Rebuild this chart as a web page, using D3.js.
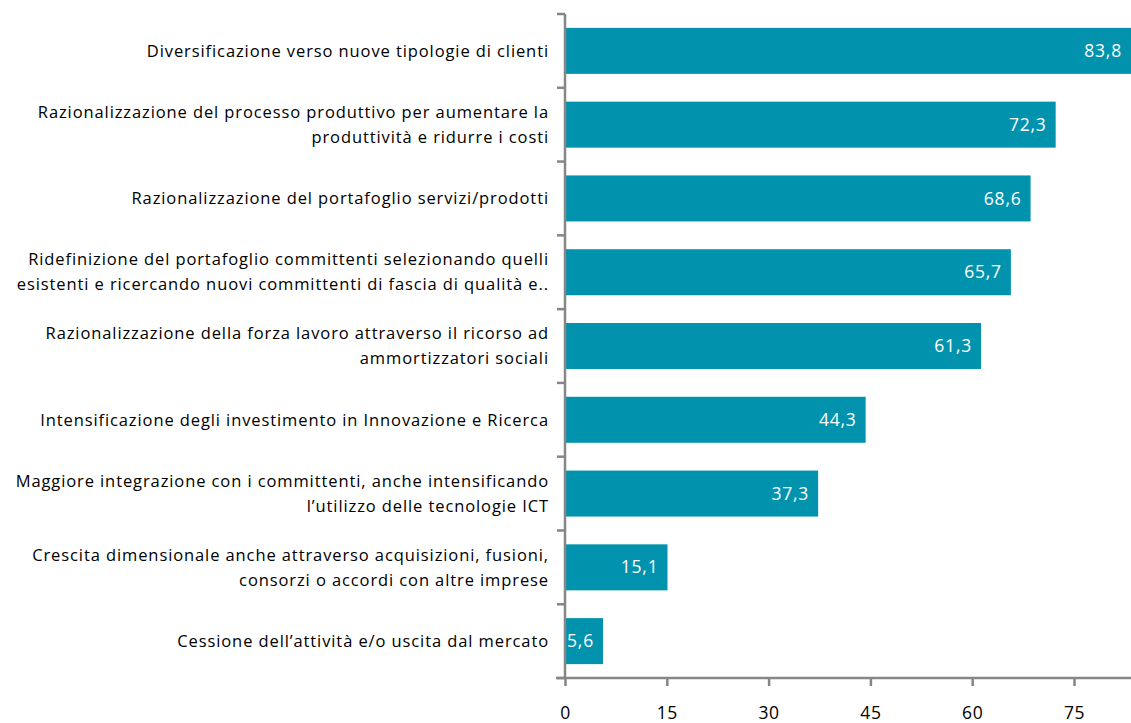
<!DOCTYPE html>
<html>
<head>
<meta charset="utf-8">
<script src="https://cdn.jsdelivr.net/npm/d3@7"></script>
<style>
  html, body { margin: 0; padding: 0; background: #fff; overflow: hidden; }
  svg { display: block; }
  .cat { font-family: "Open Sans", sans-serif; font-size: 16.5px; letter-spacing: 0.9px; fill: #000; }
  .val { font-family: "Open Sans", sans-serif; font-size: 17.5px; letter-spacing: 0.8px; fill: #fff; }
  .tick text { font-family: "Open Sans", sans-serif; font-size: 17.5px; letter-spacing: 0.6px; fill: #000; }
</style>
</head>
<body>
<svg id="chart" width="1131" height="723"></svg>
<script>
// Answers (percent of firms), one per strategy, top to bottom
const categories = [
  ["Diversificazione verso nuove tipologie di clienti"],
  ["Razionalizzazione del processo produttivo per aumentare la", "produttività e ridurre i costi"],
  ["Razionalizzazione del portafoglio servizi/prodotti"],
  ["Ridefinizione del portafoglio committenti selezionando quelli", "esistenti e ricercando nuovi committenti di fascia di qualità e.."],
  ["Razionalizzazione della forza lavoro attraverso il ricorso ad", "ammortizzatori sociali"],
  ["Intensificazione degli investimento in Innovazione e Ricerca"],
  ["Maggiore integrazione con i committenti, anche intensificando", "l’utilizzo delle tecnologie ICT"],
  ["Crescita dimensionale anche attraverso acquisizioni, fusioni,", "consorzi o accordi con altre imprese"],
  ["Cessione dell’attività e/o uscita dal mercato"]
];
const values = [83.8, 72.3, 68.6, 65.7, 61.3, 44.3, 37.3, 15.1, 5.6];
const xTicks = [0, 15, 30, 45, 60, 75];

const W = 1131, H = 723;
const plotLeft = 565, plotTop = 14, plotBottom = 678;
const barColor = "#0193AE";
const axisColor = "#868686";

const svg = d3.select("#chart");

// value axis runs past the right edge of the page
const x = d3.scaleLinear().domain([0, 90]).range([plotLeft, plotLeft + 90 * (101.8 / 15)]);
const ids = d3.range(categories.length);
const y = d3.scaleBand().domain(ids).range([plotTop, plotBottom]).paddingInner(0.3765).paddingOuter(0.188);

// bars
svg.append("g").selectAll("rect").data(ids).join("rect")
  .attr("x", x(0))
  .attr("y", i => y(i))
  .attr("width", i => x(values[i]) - x(0))
  .attr("height", y.bandwidth())
  .attr("fill", barColor);

// value labels inside bar ends
svg.append("g").selectAll("text").data(ids).join("text")
  .attr("class", "val")
  .attr("x", i => Math.min(x(values[i]), W) - 9)
  .attr("y", i => y(i) + y.bandwidth() / 2)
  .attr("dy", "0.35em")
  .attr("text-anchor", "end")
  .text(i => d3.format(".1f")(values[i]).replace(".", ","));

// category labels, right aligned left of the axis
const lineH = 25;
const cat = svg.append("g").selectAll("text").data(ids).join("text")
  .attr("class", "cat")
  .attr("text-anchor", "end")
  .attr("y", i => y(i) + y.bandwidth() / 2);
cat.each(function (i) {
  const lines = categories[i];
  const t = d3.select(this);
  lines.forEach((ln, k) => {
    t.append("tspan")
      .attr("x", 549)
      .attr("y", y(i) + y.bandwidth() / 2 + (k - (lines.length - 1) / 2) * lineH)
      .attr("dy", "0.35em")
      .text(ln);
  });
});

// bottom value axis
const xAxis = svg.append("g")
  .attr("transform", `translate(0,${plotBottom})`)
  .call(d3.axisBottom(x).tickValues(xTicks).tickSize(8).tickPadding(21).tickSizeOuter(0));
xAxis.select(".domain").remove();
xAxis.selectAll(".tick line").attr("stroke", axisColor).attr("stroke-width", 2.5);
xAxis.append("line")
  .attr("x1", plotLeft - 9).attr("x2", W)
  .attr("y1", 0).attr("y2", 0)
  .attr("stroke", axisColor).attr("stroke-width", 2.5);

// vertical category axis with ticks between bands
const step = y.step();
const bounds = d3.range(categories.length + 1).map(k => plotTop + k * step);
svg.append("line")
  .attr("x1", plotLeft).attr("x2", plotLeft)
  .attr("y1", plotTop).attr("y2", plotBottom)
  .attr("stroke", axisColor).attr("stroke-width", 2.5);
svg.append("g").selectAll("line").data(bounds).join("line")
  .attr("x1", plotLeft - 8).attr("x2", plotLeft)
  .attr("y1", d => d).attr("y2", d => d)
  .attr("stroke", axisColor).attr("stroke-width", 2.5);
</script>
</body>
</html>
